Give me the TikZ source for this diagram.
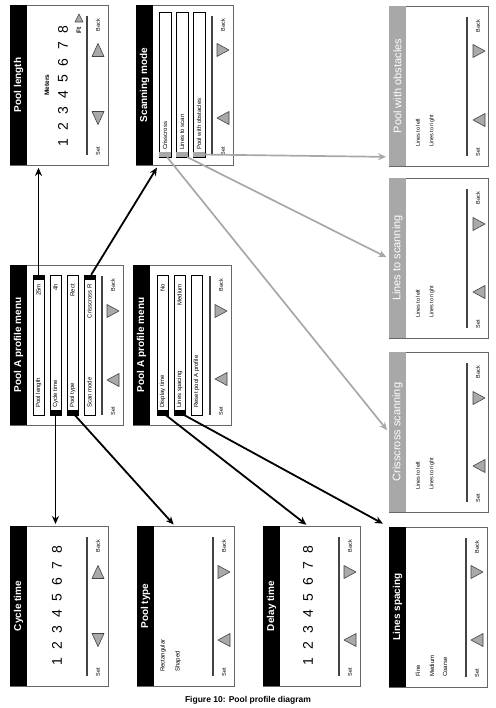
\documentclass[tikz,border=0pt]{standalone}
\usepackage{fontspec}
\setmainfont{Liberation Sans}
\usetikzlibrary{arrows.meta,calc}
\definecolor{frm}{HTML}{666666}
\definecolor{hgray}{HTML}{A8A8A8}
\definecolor{tri}{HTML}{A9A9A9}
\definecolor{dl}{HTML}{444444}
\tikzset{
 scrbox/.style={draw=frm, fill=white, line width=0.9pt, anchor=north west, inner sep=0pt, minimum height=160pt},
 ttl/.style={rotate=90, text=white, font=\bfseries\fontsize{10}{12}\selectfont, inner sep=0pt},
 ttlg/.style={rotate=90, text=white, font=\fontsize{11}{12}\selectfont, inner sep=0pt},
 sm/.style={rotate=90, font=\fontsize{5.5}{6}\selectfont, inner sep=0pt},
 itx/.style={rotate=90, font=\fontsize{6}{7}\selectfont, inner sep=0pt},
 ltx/.style={rotate=90, font=\fontsize{6}{7}\selectfont, inner sep=0pt, anchor=west},
 num/.style={rotate=90, font=\fontsize{14}{14}\selectfont, inner sep=0pt},
 divl/.style={draw=dl, line width=1.1pt},
 trif/.style={fill=tri, draw=dl, line width=0.6pt, line join=round},
 itembox/.style={draw=black, fill=white, line width=0.6pt},
 tabk/.style={fill=black, inner sep=0pt, minimum width=11pt, minimum height=5pt},
 tabg/.style={fill=hgray, inner sep=0pt, minimum width=12pt, minimum height=5pt},
 blk/.style={draw=black, line width=1.8pt, -{Stealth[length=8pt,width=7pt]}, shorten >=2pt},
 gry/.style={draw=hgray, line width=1.7pt, -{Stealth[length=8pt,width=7pt]}, shorten >=3pt},
}
% name, x, y, width, header colour, title style, title
\newcommand\scrn[7]{%
 \node[scrbox, minimum width=#4pt] (#1) at (#2,#3) {};
 \fill[#5] (#2,#3) rectangle ++(17,160);
 \node[#6] (#1-t) at (#2+8.5,#3+80) {#7};
 \draw[divl] (#2+#4-21,#3+11) -- (#2+#4-21,#3+150);
 \node[sm] (#1-set) at (#2+#4-10,#3+146) {Set};
 \node[sm] (#1-back) at (#2+#4-10,#3+20) {Back};
}
\newcommand\trid[2]{\draw[trif] (#1-6,#2-6.5) -- (#1+6,#2-6.5) -- (#1,#2+6.5) -- cycle;}
\newcommand\triu[2]{\draw[trif] (#1-6,#2+6.5) -- (#1+6,#2+6.5) -- (#1,#2-6.5) -- cycle;}
\newcommand\tril[2]{\draw[trif] (#1+6,#2-6.5) -- (#1+6,#2+6.5) -- (#1-6,#2) -- cycle;}
\newcommand\trir[2]{\draw[trif] (#1-6,#2-6.5) -- (#1-6,#2+6.5) -- (#1+6,#2) -- cycle;}
% x, y1, y2, w, label, value
\newcommand\itm[6]{%
 \draw[itembox] (#1,#2) rectangle (#1+#4,#3);
 \node[itx, anchor=west] at (#1+#4/2,#3-7) {#5};
 \node[itx, anchor=east] at (#1+#4/2,#2+9) {#6};
}
\begin{document}
\begin{tikzpicture}[x=1pt,y=-1pt]
\fill[white] (0,0) rectangle (495,708);
\useasboundingbox (0,0) rectangle (495,708);

% ---------- screens ----------
\scrn{plen}{10}{5}{98}{black}{ttl}{Pool length}
\scrn{scan}{136}{5}{97}{black}{ttl}{Scanning mode}
\scrn{pwo}{389}{6}{99}{hgray}{ttlg}{Pool with obstacles}
\scrn{menuA}{10}{265}{113}{black}{ttl}{Pool A profile menu}
\scrn{menuB}{133}{265}{98}{black}{ttl}{Pool A profile menu}
\scrn{lts}{389}{178}{99}{hgray}{ttlg}{Lines to scanning}
\scrn{cross}{389}{352}{99}{hgray}{ttlg}{Crisscross scanning}
\scrn{cyc}{10}{526}{98}{black}{ttl}{Cycle time}
\scrn{ptype}{137}{526}{97}{black}{ttl}{Pool type}
\scrn{delay}{263}{526}{97}{black}{ttl}{Delay time}
\scrn{lsp}{389}{527}{98}{black}{ttl}{Lines spacing}

% ---------- triangles ----------
\trid{98}{118}\triu{98}{50}
\tril{223}{118}\trir{223}{50}
\tril{479}{120}\trir{479}{51}
\tril{113}{380}\trir{113}{311}
\tril{221}{379}\trir{221}{311}
\tril{479}{292}\trir{479}{224}
\tril{479}{466}\trir{479}{398}
\trid{98}{640}\triu{98}{572}
\tril{224}{640}\trir{224}{572}
\tril{350}{640}\trir{350}{572}
\tril{477}{640}\trir{477}{572}

% ---------- Pool length ----------
\node[rotate=90, font=\bfseries\fontsize{6.5}{7}\selectfont, inner sep=0pt] (met) at (47,85) {Meters};
\node[rotate=90, font=\bfseries\fontsize{6.5}{7}\selectfont, inner sep=0pt] (ft) at (79,30) {Ft};
\draw[trif] (75,22) -- (83,22) -- (79,14) -- cycle;
\foreach \k in {1,...,8} \node[num] (pl\k) at (63,143-\k*16.15+16.15) {\k};

% ---------- Cycle / Delay ----------
\foreach \k in {1,...,8} \node[num] (cy\k) at (57,662-\k*16+16) {\k};
\foreach \k in {1,...,8} \node[num] (dt\k) at (308,662-\k*16+16) {\k};

% ---------- Pool type / Lines spacing ----------
\node[ltx] (rect) at (163,672) {Rectangular};
\node[ltx] (shp) at (178,672) {Shaped};
\node[ltx] (fine) at (418,677) {Fine};
\node[ltx] (med) at (432,677) {Medium};
\node[ltx] (coa) at (445,677) {Coarse};

% ---------- scanning result screens ----------
\node[ltx, font=\fontsize{5.5}{6}\selectfont] (a1) at (418,147) {Lines to left};
\node[ltx, font=\fontsize{5.5}{6}\selectfont] (a2) at (432,147) {Lines to right};
\node[ltx, font=\fontsize{5.5}{6}\selectfont] (b1) at (418,318) {Lines to left};
\node[ltx, font=\fontsize{5.5}{6}\selectfont] (b2) at (432,318) {Lines to right};
\node[ltx, font=\fontsize{5.5}{6}\selectfont] (c1) at (418,490) {Lines to left};
\node[ltx, font=\fontsize{5.5}{6}\selectfont] (c2) at (432,490) {Lines to right};

% ---------- menu items ----------
\itm{33}{275}{415}{11}{Pool length}{25m}
\itm{50}{275}{415}{11}{Cycle time}{4h}
\itm{67}{275}{415}{11}{Pool type}{Rect}
\itm{84}{275}{415}{11}{Scan mode}{Crisscross R}
\itm{157}{275}{415}{11}{Display time}{No}
\itm{174}{275}{415}{11}{Lines spacing}{Medium}
\itm{191}{275}{415}{11}{Reset pool A profile}{}
\itm{159}{12}{157}{12}{Crisscross}{}
\itm{176}{12}{157}{12}{Lines to scan}{}
\itm{193}{12}{157}{12}{Pool with obstacles}{}

\node[tabk] (tPL) at (38.5,277.5) {};
\node[tabk] (tCT) at (55.5,412.5) {};
\node[tabk] (tPT) at (72.5,412.5) {};
\node[tabk] (tSM) at (89.5,277.5) {};
\node[tabk] (tDT) at (162.5,412.5) {};
\node[tabk] (tLS) at (179.5,412.5) {};
\node[tabg] (sT1) at (165,154.5) {};
\node[tabg] (sT2) at (182,154.5) {};
\node[tabg] (sT3) at (199,154.5) {};

% ---------- connectors ----------
\draw[gry] (sT3) -- ($(pwo.south west)+(0,-10)$);
\draw[gry] (sT2) -- (lts.west);
\draw[gry] (sT1) -- (cross.west);
\draw[blk] (tPL) -- (tPL |- plen.south);
\draw[blk] (tSM) -- ($(scan.south west)+(22,0)$);
\draw[blk] (tCT) -- (tCT |- cyc.north);
\draw[blk] (tPT) -- ($(ptype.north west)+(38,0)$);
\draw[blk] (tDT) -- ($(delay.north west)+(45,0)$);
\draw[blk, shorten >=7pt] (tLS) -- (lsp.north west);

% ---------- caption ----------
\node[font=\bfseries\fontsize{8.5}{10}\selectfont] (cap) at (248,700) {Figure 10: Pool profile diagram};
\end{tikzpicture}
\end{document}
